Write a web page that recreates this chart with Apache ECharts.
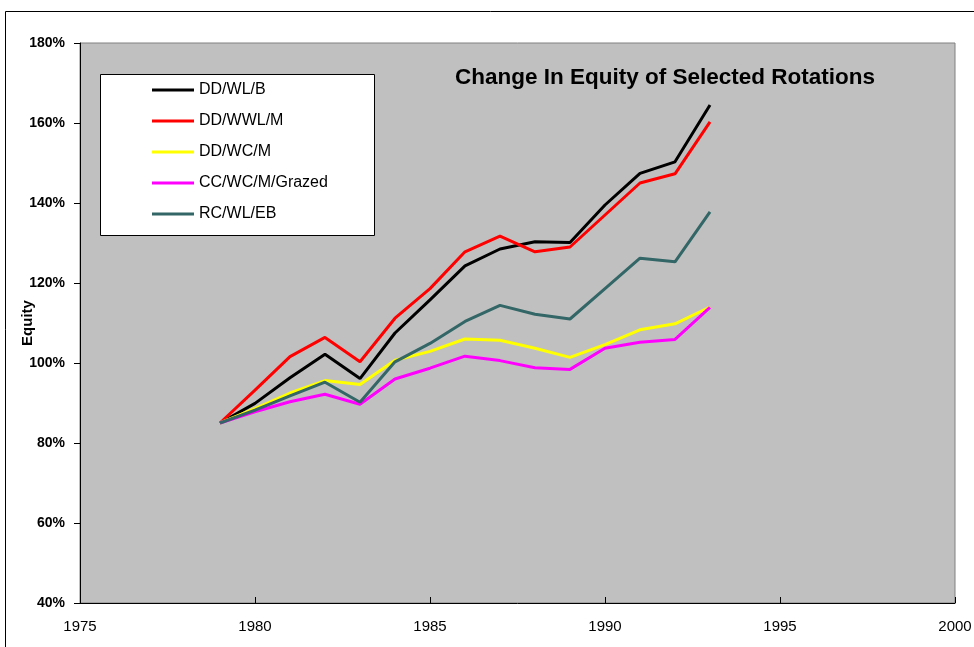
<!DOCTYPE html>
<html>
<head>
<meta charset="utf-8">
<script src="https://cdn.jsdelivr.net/npm/echarts@6/dist/echarts.min.js"></script>
<style>
html,body{margin:0;padding:0;background:#fff;}
#c{width:974px;height:647px;}
</style>
</head>
<body>
<div id="c"></div>
<script>
const years = [1979,1980,1981,1982,1983,1984,1985,1986,1987,1988,1989,1990,1991,1992,1993];
const seriesNames = ['DD/WL/B','DD/WWL/M','DD/WC/M','CC/WC/M/Grazed','RC/WL/EB'];
const ddwlb   = [85, 89.9, 96.3, 102.2, 96.1, 107.5, 115.8, 124.3, 128.5, 130.3, 130.1, 139.5, 147.4, 150.3, 164.5];
const ddwwlm  = [85, 93.2, 101.6, 106.4, 100.3, 111.2, 118.6, 127.8, 131.7, 127.8, 129.0, 137.0, 145.0, 147.3, 160.3];
const ddwcm   = [85, 88.6, 92.5, 95.6, 94.6, 100.7, 102.9, 106.0, 105.7, 103.7, 101.4, 104.6, 108.3, 109.8, 114.0];
const ccwcmg  = [85, 87.8, 90.3, 92.2, 89.7, 96.0, 98.7, 101.7, 100.6, 98.8, 98.4, 103.7, 105.2, 105.9, 113.9];
const rcwleb  = [85, 88.2, 91.8, 95.2, 90.2, 100.3, 104.9, 110.4, 114.4, 112.2, 111.0, 118.6, 126.2, 125.3, 137.8];
const seriesValues = [ddwlb, ddwwlm, ddwcm, ccwcmg, rcwleb];
const seriesColors = ['#000000','#FF0000','#FFFF00','#FF00FF','#336666'];
const xTicks = {min:1975, max:2000, interval:5};
const yTicks = {min:40, max:180, interval:20};
const titleText = 'Change In Equity of Selected Rotations';
const yName = 'Equity';

const chart = echarts.init(document.getElementById('c'), null, {renderer:'canvas'});
const font = 'Arial, "Liberation Sans", sans-serif';

chart.setOption({
  animation:false,
  backgroundColor:'#ffffff',
  textStyle:{fontFamily:font},
  graphic:[
    {type:'rect', shape:{x:5.5, y:11.5, width:1100, height:800}, style:{fill:'none', stroke:'#000', lineWidth:1}, silent:true, z:-10},
    {type:'rect', shape:{x:100.5, y:74.5, width:274, height:161}, style:{fill:'#ffffff', stroke:'#000', lineWidth:1}, z:50}
  ],
  title:{
    text:titleText,
    left:455, top:66, padding:0,
    textStyle:{fontFamily:font, fontSize:22.5, fontWeight:'bold', color:'#000'}
  },
  legend:{
    orient:'vertical',
    left:152, top:82, padding:0,
    itemWidth:42, itemHeight:3,
    itemGap:15,
    icon:'rect',
    z:60,
    textStyle:{fontFamily:font, fontSize:16, color:'#000'},
    data:seriesNames
  },
  grid:{
    left:80, top:43, right:19, bottom:44,
    show:true, backgroundColor:'#C0C0C0', borderColor:'#808080', borderWidth:1,
    containLabel:false,
    outerBoundsMode:'none'
  },
  xAxis:{
    type:'value',
    min:xTicks.min, max:xTicks.max, interval:xTicks.interval,
    axisLine:{lineStyle:{color:'#000', width:1}},
    axisTick:{inside:true, length:6, lineStyle:{color:'#000'}},
    axisLabel:{fontFamily:font, fontSize:15, color:'#000', margin:16, formatter:v=>String(v)},
    splitLine:{show:false}
  },
  yAxis:{
    type:'value',
    min:yTicks.min, max:yTicks.max, interval:yTicks.interval,
    name:yName, nameLocation:'middle', nameGap:45, nameRotate:90,
    nameMoveOverlap:false,
    nameTextStyle:{fontFamily:font, fontSize:15, fontWeight:'bold', color:'#000'},
    axisLine:{show:true, lineStyle:{color:'#000', width:1}},
    axisTick:{show:true, inside:false, length:6, lineStyle:{color:'#000'}},
    axisLabel:{fontFamily:font, fontSize:14, fontWeight:'bold', color:'#000', margin:15, formatter:'{value}%'},
    splitLine:{show:false}
  },
  series: seriesNames.map((n,i)=>({
    name:n,
    type:'line',
    data: years.map((y,j)=>[y, seriesValues[i][j]]),
    showSymbol:false,
    symbol:'none',
    lineStyle:{color:seriesColors[i], width:3},
    itemStyle:{color:seriesColors[i]},
    z:10+i
  }))
});
</script>
</body>
</html>
